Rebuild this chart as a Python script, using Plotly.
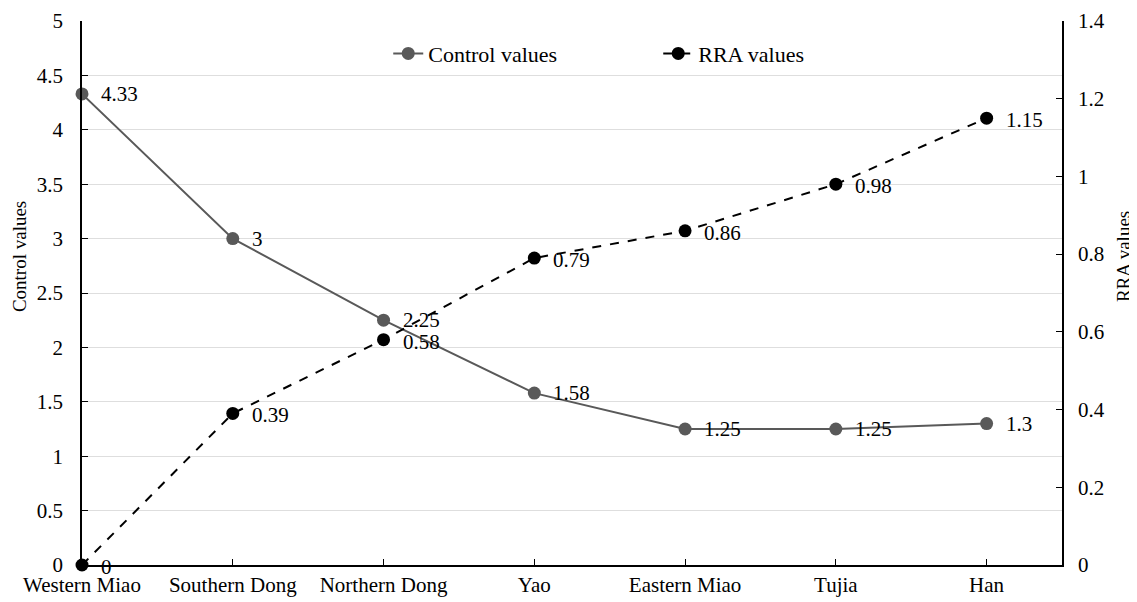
import plotly.graph_objects as go

categories = ["Western Miao", "Southern Dong", "Northern Dong", "Yao", "Eastern Miao", "Tujia", "Han"]
control_values = [4.33, 3, 2.25, 1.58, 1.25, 1.25, 1.3]
rra_values = [0, 0.39, 0.58, 0.79, 0.86, 0.98, 1.15]
left_ticks = [0, 0.5, 1, 1.5, 2, 2.5, 3, 3.5, 4, 4.5, 5]
right_ticks = [0, 0.2, 0.4, 0.6, 0.8, 1, 1.2, 1.4]

FONT = "Liberation Serif, Times New Roman, serif"
FS = 21
xs = list(range(len(categories)))

fig = go.Figure()
fig.add_trace(go.Scatter(
    x=xs, y=control_values, name="Control values", mode="lines+markers",
    line=dict(color="#595959", width=2), marker=dict(color="#595959", size=13),
    cliponaxis=False,
))
fig.add_trace(go.Scatter(
    x=xs, y=rra_values, name="RRA values", mode="lines+markers", yaxis="y2",
    line=dict(color="#000000", width=2, dash="dash"), marker=dict(color="#000000", size=13),
    cliponaxis=False,
))

for x, v in zip(xs, control_values):
    fig.add_annotation(x=x, y=v, xref="x", yref="y", text=f"{v:g}", showarrow=False,
                       xanchor="left", yanchor="middle", xshift=17,
                       font=dict(family=FONT, size=FS, color="#000"))
for x, v in zip(xs, rra_values):
    fig.add_annotation(x=x, y=v, xref="x", yref="y2", text=f"{v:g}", showarrow=False,
                       xanchor="left", yanchor="middle", xshift=17, yshift=-2,
                       font=dict(family=FONT, size=FS, color="#000"))

# axis titles
fig.add_annotation(x=0, y=0.566, xref="paper", yref="paper", text="Control values",
                   showarrow=False, textangle=-90, xanchor="center", yanchor="middle",
                   xshift=-63, font=dict(family=FONT, size=19, color="#000"))
fig.add_annotation(x=1, y=0.566, xref="paper", yref="paper", text="RRA values",
                   showarrow=False, textangle=-90, xanchor="center", yanchor="middle",
                   xshift=61, font=dict(family=FONT, size=19, color="#000"))

fig.update_layout(
    width=1129, height=594,
    margin=dict(l=74, r=75, t=13, b=37),
    paper_bgcolor="white", plot_bgcolor="white",
    font=dict(family=FONT, size=FS, color="#000"),
    showlegend=True,
    legend=dict(orientation="h", x=0.588, xanchor="center", y=0.94, yanchor="middle",
                font=dict(family=FONT, size=22), bgcolor="rgba(0,0,0,0)",
                entrywidth=225),
    xaxis=dict(range=[0, 6.5], tickvals=xs, ticktext=categories, showgrid=False,
               showline=True, linecolor="#000", linewidth=1.5, ticks="inside",
               ticklen=6, tickcolor="#000", zeroline=False, automargin=False,
               tickfont=dict(family=FONT, size=FS)),
    yaxis=dict(range=[0, 5], tickvals=left_ticks, ticktext=[f"{v:g}" for v in left_ticks],
               showgrid=True, gridcolor="#dedede", gridwidth=1, automargin=False,
               showline=True, linecolor="#000", linewidth=1.5, ticks="inside", ticklen=6,
               tickcolor="#000", zeroline=False, ticklabelstandoff=13,
               tickfont=dict(family=FONT, size=FS)),
    yaxis2=dict(range=[0, 1.4], tickvals=right_ticks, ticktext=[f"{v:g}" for v in right_ticks],
                overlaying="y", side="right", showgrid=False, automargin=False,
                showline=True, linecolor="#000", linewidth=1.5, ticks="inside", ticklen=6,
                tickcolor="#000", zeroline=False, ticklabelstandoff=10,
                tickfont=dict(family=FONT, size=FS)),
)

fig.write_html("out.html")
